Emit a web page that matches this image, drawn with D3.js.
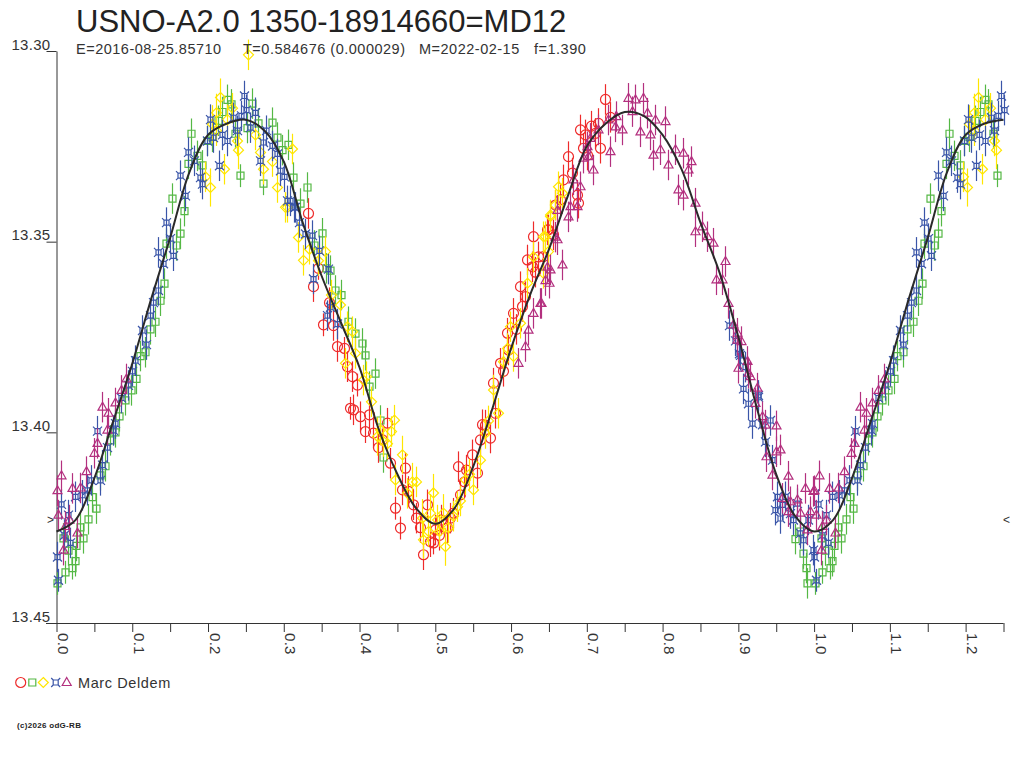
<!DOCTYPE html>
<html>
<head>
<meta charset="utf-8">
<script src="https://cdn.jsdelivr.net/npm/d3@7"></script>
<style>
	body { margin: 0; background: #fff; }
	svg { display: block; font-family: 'Liberation Sans', Arial, sans-serif; }
</style>
</head>
<body>
<div id="chart"></div>
<script>
// phase, magnitude, error
var redPts = [
	[0.332,13.3426,0.004],[0.339,13.3618,0.004],[0.345,13.357,0.003],[0.352,13.3718,0.003],[0.360,13.366,0.004],[0.365,13.372,0.004],
	[0.370,13.3775,0.004],[0.379,13.378,0.003],[0.383,13.3828,0.004],[0.388,13.3937,0.003],[0.390,13.3854,0.004],[0.392,13.3941,0.004],
	[0.396,13.3876,0.003],[0.401,13.3959,0.004],[0.407,13.3998,0.003],[0.412,13.3954,0.004],[0.418,13.4002,0.004],[0.425,13.404,0.004],
	[0.430,13.402,0.003],[0.436,13.3976,0.004],[0.440,13.4081,0.004],[0.447,13.4199,0.003],[0.453,13.4251,0.003],[0.456,13.4151,0.004],
	[0.460,13.4094,0.004],[0.464,13.4155,0.004],[0.470,13.419,0.004],[0.475,13.4225,0.004],[0.480,13.425,0.004],[0.484,13.4321,0.004],
	[0.489,13.419,0.004],[0.493,13.4287,0.004],[0.497,13.429,0.003],[0.500,13.4256,0.004],[0.505,13.427,0.004],[0.508,13.423,0.004],
	[0.515,13.4251,0.004],[0.519,13.4225,0.004],[0.524,13.4212,0.004],[0.530,13.409,0.004],[0.533,13.4164,0.004],[0.538,13.413,0.004],
	[0.541,13.4099,0.004],[0.548,13.4059,0.004],[0.555,13.4107,0.004],[0.559,13.402,0.004],[0.562,13.398,0.004],[0.566,13.3981,0.004],
	[0.572,13.4015,0.004],[0.576,13.3871,0.004],[0.579,13.395,0.004],[0.585,13.3819,0.004],[0.590,13.384,0.004],[0.594,13.374,0.004],
	[0.596,13.3784,0.004],[0.603,13.3688,0.004],[0.607,13.373,0.004],[0.612,13.3618,0.004],[0.615,13.367,0.004],[0.618,13.3644,0.004],
	[0.621,13.3548,0.004],[0.627,13.3566,0.004],[0.629,13.3487,0.004],[0.632,13.358,0.004],[0.636,13.354,0.004],[0.642,13.3539,0.004],
	[0.647,13.3469,0.004],[0.649,13.3469,0.004],[0.656,13.3482,0.004],[0.658,13.3404,0.004],[0.664,13.339,0.004],[0.669,13.3338,0.004],
	[0.675,13.3277,0.004],[0.680,13.332,0.004],[0.687,13.3378,0.004],[0.689,13.3399,0.004],[0.691,13.3207,0.004],[0.695,13.3255,0.004],
	[0.698,13.322,0.004],[0.700,13.3273,0.004],[0.706,13.3197,0.004],[0.711,13.3216,0.004],[0.715,13.319,0.004],[0.717,13.3255,0.004],
	[0.724,13.3127,0.004],[0.731,13.3174,0.004]
];
var greenPts = [
	[0.001,13.4396,0.003],[0.009,13.4278,0.004],[0.011,13.4367,0.003],[0.015,13.431,0.004],[0.021,13.4356,0.003],[0.024,13.4338,0.004],
	[0.026,13.4298,0.004],[0.031,13.4249,0.004],[0.035,13.4278,0.004],[0.042,13.4228,0.004],[0.047,13.417,0.004],[0.052,13.420,0.004],
	[0.057,13.4113,0.004],[0.064,13.4089,0.004],[0.071,13.4021,0.004],[0.077,13.400,0.004],[0.083,13.3958,0.004],[0.090,13.3916,0.004],
	[0.098,13.389,0.004],[0.105,13.386,0.004],[0.110,13.380,0.004],[0.117,13.379,0.004],[0.123,13.373,0.004],[0.130,13.371,0.004],
	[0.137,13.3655,0.004],[0.142,13.361,0.004],[0.145,13.3505,0.004],[0.153,13.3387,0.004],[0.158,13.351,0.004],[0.163,13.3479,0.004],
	[0.168,13.342,0.004],[0.174,13.3296,0.004],[0.178,13.3217,0.004],[0.185,13.3275,0.004],[0.192,13.330,0.004],[0.198,13.3236,0.004],
	[0.205,13.3225,0.004],[0.213,13.3183,0.004],[0.219,13.316,0.004],[0.225,13.3128,0.004],[0.230,13.314,0.004],[0.236,13.3217,0.004],
	[0.242,13.3327,0.003],[0.251,13.3202,0.004],[0.258,13.3138,0.004],[0.266,13.319,0.004],[0.273,13.3348,0.003],[0.284,13.3188,0.004],
	[0.291,13.3227,0.004],[0.297,13.326,0.004],[0.306,13.3246,0.004],[0.312,13.3332,0.004],[0.322,13.340,0.004],[0.330,13.3358,0.004],
	[0.340,13.351,0.004],[0.350,13.3478,0.004],[0.356,13.357,0.004],[0.361,13.3576,0.004],[0.368,13.3628,0.004],[0.375,13.364,0.004],
	[0.385,13.371,0.004],[0.394,13.3741,0.004],[0.403,13.3767,0.004],[0.407,13.3798,0.004],[0.412,13.388,0.004],[0.420,13.3846,0.004],
	[0.427,13.3969,0.004],[0.431,13.4066,0.004],[0.975,13.428,0.004],[0.982,13.426,0.004],[0.986,13.4318,0.004],[0.989,13.4356,0.004],
	[0.991,13.4396,0.004]
];
var yellowPts = [
	[0.196,13.333,0.004],[0.202,13.3358,0.005],[0.205,13.3192,0.005],[0.2105,13.3162,0.005],[0.211,13.3209,0.004],[0.216,13.3122,0.005],
	[0.221,13.331,0.004],[0.225,13.318,0.004],[0.232,13.315,0.004],[0.238,13.3236,0.004],[0.240,13.326,0.005],[0.253,13.301,0.004],
	[0.262,13.322,0.004],[0.269,13.3266,0.004],[0.273,13.331,0.004],[0.285,13.329,0.004],[0.291,13.3358,0.004],[0.302,13.341,0.004],
	[0.304,13.341,0.004],[0.311,13.3257,0.004],[0.319,13.3489,0.004],[0.326,13.3549,0.004],[0.333,13.352,0.004],[0.345,13.355,0.004],
	[0.354,13.3526,0.004],[0.362,13.364,0.004],[0.374,13.3666,0.004],[0.381,13.3819,0.004],[0.383,13.3723,0.004],[0.390,13.3736,0.004],
	[0.394,13.3793,0.004],[0.405,13.3863,0.004],[0.409,13.3854,0.004],[0.415,13.392,0.004],[0.423,13.4011,0.005],[0.427,13.3994,0.004],
	[0.431,13.4024,0.004],[0.436,13.403,0.004],[0.442,13.3998,0.004],[0.445,13.3968,0.004],[0.447,13.4125,0.004],[0.456,13.4059,0.005],
	[0.462,13.416,0.004],[0.469,13.413,0.005],[0.475,13.413,0.004],[0.482,13.4225,0.005],[0.484,13.4282,0.005],[0.490,13.426,0.004],
	[0.493,13.4212,0.005],[0.497,13.4159,0.005],[0.502,13.423,0.004],[0.505,13.426,0.004],[0.510,13.4212,0.005],[0.513,13.430,0.005],
	[0.517,13.425,0.004],[0.524,13.422,0.004],[0.528,13.4195,0.004],[0.533,13.418,0.004],[0.539,13.4125,0.004],[0.545,13.411,0.004],
	[0.550,13.4151,0.004],[0.559,13.4073,0.004],[0.566,13.4003,0.004],[0.570,13.397,0.004],[0.576,13.3889,0.004],[0.583,13.395,0.004],
	[0.590,13.3815,0.004],[0.595,13.378,0.004],[0.599,13.3723,0.004],[0.603,13.3801,0.004],[0.612,13.3714,0.004],[0.621,13.3609,0.004],
	[0.629,13.354,0.004],[0.642,13.3487,0.004],[0.642,13.3583,0.004],[0.645,13.3487,0.004],[0.649,13.3526,0.004],[0.651,13.343,0.004],
	[0.651,13.3434,0.004],[0.658,13.3404,0.004],[0.662,13.3356,0.004],[0.667,13.3373,0.004]
];
var bluePts = [
	[0.000,13.4327,0.004],[0.002,13.4388,0.003],[0.0055,13.4189,0.004],[0.010,13.427,0.004],[0.0156,13.4217,0.004],[0.018,13.429,0.004],
	[0.024,13.4169,0.004],[0.033,13.4165,0.004],[0.040,13.4152,0.004],[0.046,13.4126,0.004],[0.054,13.3997,0.004],[0.057,13.4126,0.004],
	[0.060,13.4086,0.004],[0.067,13.404,0.004],[0.075,13.3995,0.004],[0.077,13.3977,0.004],[0.085,13.391,0.004],[0.094,13.3877,0.004],
	[0.100,13.384,0.004],[0.104,13.3812,0.004],[0.113,13.3733,0.004],[0.118,13.377,0.004],[0.123,13.3694,0.004],[0.128,13.366,0.004],
	[0.134,13.3628,0.004],[0.134,13.3528,0.004],[0.141,13.3558,0.004],[0.145,13.345,0.004],[0.150,13.3492,0.004],[0.154,13.3537,0.004],
	[0.163,13.3327,0.004],[0.170,13.338,0.004],[0.174,13.3266,0.004],[0.181,13.3288,0.004],[0.189,13.3332,0.004],[0.192,13.3349,0.004],
	[0.198,13.3236,0.004],[0.203,13.318,0.004],[0.207,13.3227,0.004],[0.214,13.3301,0.004],[0.218,13.322,0.004],[0.225,13.3236,0.004],
	[0.233,13.3175,0.004],[0.238,13.3209,0.004],[0.243,13.317,0.004],[0.247,13.3118,0.004],[0.250,13.3155,0.004],[0.255,13.3201,0.004],
	[0.262,13.3162,0.004],[0.269,13.3288,0.004],[0.272,13.324,0.004],[0.277,13.3209,0.004],[0.284,13.3249,0.004],[0.291,13.327,0.004],
	[0.295,13.3314,0.004],[0.300,13.333,0.004],[0.304,13.3393,0.004],[0.308,13.3393,0.004],[0.313,13.341,0.004],[0.315,13.341,0.004],
	[0.320,13.345,0.004],[0.328,13.348,0.004],[0.337,13.3484,0.004],[0.338,13.3598,0.004],[0.346,13.3524,0.004],[0.357,13.3694,0.004],
	[0.359,13.3572,0.004],[0.361,13.3672,0.004],[0.370,13.3716,0.004],
	[0.888,13.372,0.004],[0.895,13.376,0.004],[0.901,13.3794,0.004],[0.902,13.3798,0.004],[0.906,13.3886,0.004],[0.909,13.3829,0.004],
	[0.913,13.3925,0.004],[0.918,13.3977,0.004],[0.926,13.3903,0.004],[0.926,13.3908,0.004],[0.931,13.398,0.004],[0.935,13.4025,0.004],
	[0.942,13.3969,0.004],[0.944,13.4073,0.004],[0.948,13.4204,0.004],[0.951,13.4169,0.004],[0.955,13.4226,0.004],[0.958,13.419,0.004],
	[0.961,13.4169,0.004],[0.968,13.4213,0.004],[0.972,13.423,0.004],[0.977,13.4187,0.004],[0.981,13.4265,0.004],[0.986,13.4283,0.004],
	[0.992,13.423,0.004],[0.999,13.4309,0.004]
];
var magentaPts = [
	[0.000,13.4153,0.004],[0.002,13.4217,0.004],[0.006,13.4114,0.004],[0.009,13.4309,0.004],[0.011,13.4247,0.004],[0.016,13.423,0.004],
	[0.020,13.4147,0.004],[0.027,13.4264,0.004],[0.031,13.4146,0.004],[0.039,13.4103,0.004],[0.049,13.4055,0.004],[0.053,13.4029,0.004],
	[0.060,13.3934,0.004],[0.066,13.3994,0.004],[0.068,13.395,0.004],[0.077,13.3923,0.004],[0.085,13.389,0.004],[0.092,13.386,0.004],
	[0.609,13.3819,0.004],[0.618,13.3775,0.004],[0.623,13.3732,0.004],[0.629,13.3688,0.004],[0.638,13.3662,0.004],[0.640,13.3662,0.004],
	[0.645,13.3602,0.004],[0.647,13.3567,0.004],[0.650,13.3609,0.004],[0.651,13.3574,0.004],[0.658,13.3488,0.004],[0.660,13.3418,0.004],
	[0.660,13.3495,0.004],[0.667,13.3561,0.004],[0.675,13.3435,0.004],[0.678,13.3408,0.004],[0.682,13.3338,0.004],[0.687,13.3408,0.004],
	[0.691,13.3356,0.004],[0.695,13.3281,0.004],[0.700,13.3251,0.004],[0.702,13.3277,0.004],[0.704,13.3229,0.004],[0.708,13.3312,0.004],
	[0.715,13.3207,0.004],[0.728,13.3181,0.004],[0.730,13.3264,0.004],[0.737,13.3199,0.004],[0.739,13.3172,0.004],[0.746,13.3207,0.004],
	[0.755,13.3124,0.004],[0.759,13.3159,0.004],[0.763,13.3128,0.004],[0.770,13.3212,0.004],[0.774,13.3124,0.004],[0.779,13.3163,0.004],
	[0.783,13.322,0.004],[0.788,13.3273,0.004],[0.790,13.3181,0.004],[0.797,13.3259,0.004],[0.803,13.3185,0.004],[0.807,13.3299,0.004],
	[0.816,13.3259,0.004],[0.821,13.3364,0.004],[0.827,13.3268,0.004],[0.827,13.3378,0.004],[0.834,13.3312,0.004],[0.838,13.329,0.004],
	[0.843,13.3399,0.004],[0.843,13.3474,0.004],[0.852,13.3461,0.004],[0.858,13.3487,0.004],[0.867,13.3504,0.004],[0.871,13.360,0.004],
	[0.878,13.360,0.004],[0.882,13.3552,0.004],[0.887,13.3662,0.004],[0.893,13.3718,0.004],[0.898,13.374,0.004],[0.898,13.3758,0.004],
	[0.900,13.3832,0.004],[0.904,13.3762,0.004],[0.911,13.3814,0.004],[0.913,13.3845,0.004],[0.915,13.3854,0.004],[0.922,13.3924,0.004],
	[0.924,13.3884,0.004],[0.931,13.3959,0.004],[0.935,13.3981,0.004],[0.937,13.4064,0.004],[0.944,13.4112,0.004],[0.950,13.3983,0.004],
	[0.950,13.4051,0.004],[0.955,13.4046,0.004],[0.957,13.4173,0.004],[0.965,13.4115,0.004],[0.966,13.4208,0.004],[0.968,13.4182,0.004],
	[0.977,13.4177,0.004],[0.981,13.4212,0.004],[0.988,13.4147,0.004],[0.990,13.4256,0.004],[0.994,13.4208,0.004],[0.999,13.4155,0.004]
];

// fitted light curve
var curvePhase = [0, 0.025, 0.05, 0.075, 0.1, 0.125, 0.15, 0.175, 0.2, 0.225, 0.25, 0.275, 0.3, 0.325, 0.35, 0.375, 0.4, 0.425, 0.45, 0.475,
	0.5, 0.525, 0.55, 0.575, 0.6, 0.625, 0.65, 0.675, 0.7, 0.725, 0.75, 0.775, 0.8, 0.825, 0.85, 0.875, 0.9, 0.925, 0.95, 0.975, 1.0];
var curveMag = [13.426, 13.423, 13.412, 13.397, 13.382, 13.365, 13.349, 13.332, 13.322, 13.319, 13.318, 13.321, 13.329, 13.345, 13.359,
	13.371, 13.383, 13.399, 13.411, 13.420, 13.424, 13.420, 13.409, 13.394, 13.378, 13.364, 13.352, 13.338, 13.325, 13.319, 13.316,
	13.317, 13.322, 13.331, 13.345, 13.358, 13.375, 13.394, 13.411, 13.422, 13.426];

var yTicks = [13.30, 13.35, 13.40, 13.45];
var xTicks = [0, 0.05, 0.1, 0.15, 0.2, 0.25, 0.3, 0.35, 0.4, 0.45, 0.5, 0.55, 0.6, 0.65, 0.7, 0.75, 0.8, 0.85, 0.9, 0.95, 1.0, 1.05, 1.1, 1.15, 1.2, 1.25];
var minMark = 13.423;

var titleText = 'USNO-A2.0 1350-18914660=MD12';
var infoTexts = ['E=2016-08-25.85710', 'T=0.584676 (0.000029)', 'M=2022-02-15', 'f=1.390'];
var observer = 'Marc Deldem';

var series = [
	{ name: 'red', color: '#ee2a2a', shape: 'circle', data: redPts },
	{ name: 'green', color: '#55b845', shape: 'square', data: greenPts },
	{ name: 'yellow', color: '#ffe600', shape: 'diamond', data: yellowPts },
	{ name: 'blue', color: '#3a55a8', shape: 'star', data: bluePts },
	{ name: 'magenta', color: '#b3307f', shape: 'triangle', data: magentaPts }
];

var width = 1024, height = 768;

var svg = d3.select('#chart').append('svg').attr('width', width).attr('height', height);

var x = d3.scaleLinear().domain([0, 1.25]).range([56.5, 1003.5]);
var y = d3.scaleLinear().domain([13.30, 13.45]).range([51, 623]);

//marker paths, centred on 0,0
function markerPath(shape) {
	if (shape == 'circle') return 'M5,0A5,5 0 1,1 -5,0A5,5 0 1,1 5,0Z';
	if (shape == 'square') return 'M-3.5,-3.5H3.5V3.5H-3.5Z';
	if (shape == 'diamond') return 'M0,-5L5,0L0,5L-5,0Z';
	if (shape == 'triangle') return 'M0,-5L4.5,3L-4.5,3Z';
	// little square with corner spikes
	return 'M-2.5,-2.5H2.5V2.5H-2.5Z M-2.5,-2.5L-4.5,-4.5 M2.5,-2.5L4.5,-4.5 M2.5,2.5L4.5,4.5 M-2.5,2.5L-4.5,4.5';
}

//points with phase < 0.25 are shown again after 1.0
function wrapped(pts) {
	return pts.concat(pts.filter(function(d) { return d[0] <= 0.25; }).map(function(d) { return [d[0] + 1, d[1], d[2]]; }));
}

//Y axis
var yAxis = svg.append('g')
	.attr('transform', 'translate(56.5,0)')
	.call(d3.axisLeft(y).tickValues(yTicks).tickSize(10).tickSizeOuter(0).tickFormat(d3.format('.2f')));
yAxis.select('.domain').attr('stroke', '#333');
yAxis.selectAll('.tick line').attr('stroke', '#333');
yAxis.selectAll('.tick text')
	.attr('x', -6)
	.attr('dy', -2)
	.attr('fill', '#333')
	.style('font-size', '15px')
	.style('letter-spacing', '0.3px')
	.style('font-family', "'Liberation Sans', Arial, sans-serif");

//X axis
var xAxis = svg.append('g')
	.attr('transform', 'translate(0,623)')
	.call(d3.axisBottom(x).tickValues(xTicks).tickSize(9).tickSizeOuter(0).tickFormat(function(d) {
		return Math.round(d * 100) % 10 == 0 ? d3.format('.1f')(d) : '';
	}));
xAxis.select('.domain').attr('stroke', '#333').attr('d', 'M46,0.5H1003.5');
xAxis.selectAll('.tick line').attr('stroke', '#333');
xAxis.selectAll('.tick text')
	.attr('transform', 'rotate(90)')
	.attr('x', 10)
	.attr('y', -1)
	.attr('dy', 0)
	.attr('fill', '#333')
	.style('text-anchor', 'start')
	.style('font-size', '15px')
	.style('letter-spacing', '0.3px')
	.style('font-family', "'Liberation Sans', Arial, sans-serif");

//Error bars and markers
series.forEach(function(s) {
	var pts = wrapped(s.data);
	var g = svg.append('g').attr('class', 'series-' + s.name);
	g.selectAll('line')
		.data(pts)
		.enter()
		.append('line')
		.attr('x1', function(d) { return Math.round(x(d[0])) + 0.5; })
		.attr('x2', function(d) { return Math.round(x(d[0])) + 0.5; })
		.attr('y1', function(d) { return y(d[1] - d[2]); })
		.attr('y2', function(d) { return y(d[1] + d[2]); })
		.attr('stroke', s.color)
		.attr('stroke-width', 1.2);
	g.selectAll('path')
		.data(pts)
		.enter()
		.append('path')
		.attr('d', markerPath(s.shape))
		.attr('transform', function(d) { return 'translate(' + (Math.round(x(d[0])) + 0.5) + ',' + y(d[1]) + ')'; })
		.attr('fill', 'none')
		.attr('stroke', s.color)
		.attr('stroke-width', 1.2);
});

//Fitted curve, repeated past phase 1
var curvePts = curvePhase.map(function(p, i) { return [p, curveMag[i]]; });
curvePts = curvePts.concat(curvePts.filter(function(d) { return d[0] > 0 && d[0] <= 0.25; }).map(function(d) { return [d[0] + 1, d[1]]; }));
svg.append('path')
	.datum(curvePts)
	.attr('fill', 'none')
	.attr('stroke', '#2a2a2a')
	.attr('stroke-width', 2)
	.attr('d', d3.line()
		.curve(d3.curveCatmullRom)
		.x(function(d) { return x(d[0]); })
		.y(function(d) { return y(d[1]); }));

//min level marks
svg.append('text').attr('x', 47).attr('y', y(minMark) + 4).text('>')
	.attr('fill', '#333').style('font-size', '12px');
svg.append('text').attr('x', 1003).attr('y', y(minMark) + 4).text('<')
	.attr('fill', '#333').style('font-size', '12px');

//Title
svg.append('text').attr('x', 76).attr('y', 32).text(titleText)
	.attr('fill', '#222').style('font-size', '31px');

//Sub title
var infoX = [76, 243, 419, 534];
infoTexts.forEach(function(t, i) {
	svg.append('text').attr('x', infoX[i]).attr('y', 54).text(t)
		.attr('fill', '#333').style('font-size', '14.5px').style('letter-spacing', '0.5px');
});

//Legend
var legX = [20.7, 32.3, 43.3, 55.7, 66.7];
series.forEach(function(s, i) {
	svg.append('path')
		.attr('d', markerPath(s.shape))
		.attr('transform', 'translate(' + legX[i] + ',682.5)')
		.attr('fill', 'none')
		.attr('stroke', s.color)
		.attr('stroke-width', 1.2);
});
svg.append('text').attr('x', 78).attr('y', 687.5).text(observer)
	.attr('fill', '#333').style('font-size', '14.5px').style('letter-spacing', '0.6px');

//footer
svg.append('text').attr('x', 17).attr('y', 728).text('(c)2026 odG-RB')
	.attr('fill', '#222').style('font-size', '8px').style('font-weight', 'bold').style('letter-spacing', '0.3px');
</script>
</body>
</html>
